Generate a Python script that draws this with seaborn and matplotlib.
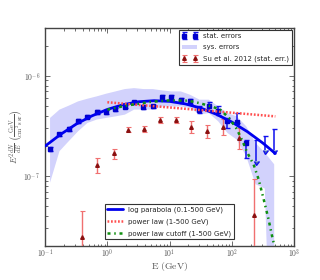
import numpy as np
import pandas as pd
import matplotlib
matplotlib.use("Agg")
import matplotlib.pyplot as plt
import seaborn as sns
from matplotlib.ticker import FuncFormatter, LogLocator

#%% Daten (E in GeV, E^2 dN/dE in GeV/cm^2/s/sr)
energie = [0.120, 0.170, 0.240, 0.339, 0.479, 0.676, 0.955, 1.35, 1.91, 2.69, 3.80,
           5.37, 7.59, 10.7, 15.1, 21.4, 30.2, 42.7, 60.3, 85.1, 120, 170]
fluss = [1.87e-7, 2.60e-7, 2.95e-7, 3.55e-7, 3.90e-7, 4.35e-7, 4.35e-7, 4.63e-7, 4.92e-7,
         5.43e-7, 4.88e-7, 4.95e-7, 6.09e-7, 6.09e-7, 5.69e-7, 5.56e-7, 4.55e-7, 5.00e-7,
         4.50e-7, 3.51e-7, 3.49e-7, 2.14e-7]
fluss_lo = [1.79e-7, 2.50e-7, 2.84e-7, 3.42e-7, 3.76e-7, 4.19e-7, 4.19e-7, 4.45e-7, 4.73e-7,
            5.22e-7, 4.69e-7, 4.75e-7, 5.80e-7, 5.80e-7, 5.37e-7, 5.24e-7, 4.25e-7, 4.60e-7,
            4.10e-7, 3.04e-7, 3.38e-7, 1.53e-7]
fluss_hi = [1.95e-7, 2.70e-7, 3.06e-7, 3.69e-7, 4.05e-7, 4.52e-7, 4.52e-7, 4.82e-7, 5.12e-7,
            5.65e-7, 5.08e-7, 5.15e-7, 6.40e-7, 6.40e-7, 6.02e-7, 5.89e-7, 4.95e-7, 5.45e-7,
            5.04e-7, 3.83e-7, 4.25e-7, 2.31e-7]

# obere Grenzen (Pfeile)
energie_ul = [240, 339, 479]
ul_oben = [2.31e-7, 2.49e-7, 2.95e-7]
ul_unten = [1.41e-7, 1.84e-7, 1.84e-7]

# systematische Fehler als Band
band_e = energie + energie_ul
band_lo = [8.6e-8, 1.77e-7, 2.23e-7, 2.80e-7, 3.39e-7, 3.66e-7, 3.80e-7, 3.94e-7, 4.10e-7,
           4.60e-7, 4.60e-7, 4.60e-7, 4.95e-7, 4.95e-7, 4.95e-7, 4.78e-7, 4.10e-7, 4.25e-7,
           3.52e-7, 2.69e-7, 2.31e-7, 1.58e-7, 8.3e-8, 7.5e-8, 1e-10]
band_hi = [3.8e-7, 4.6e-7, 5.04e-7, 5.56e-7, 5.91e-7, 6.24e-7, 6.63e-7, 6.99e-7, 7.38e-7,
           7.54e-7, 7.38e-7, 7.38e-7, 7.15e-7, 6.99e-7, 6.99e-7, 6.47e-7, 5.78e-7, 5.78e-7,
           4.95e-7, 4.25e-7, 3.94e-7, 3.14e-7, 2.14e-7, 1.71e-7, 1.31e-7]

# Su et al. 2012
su_e = [0.39, 0.68, 1.28, 2.18, 3.95, 7.0, 12.6, 22.4, 40, 71, 128, 228]
su_f = [2.44e-8, 1.30e-7, 1.68e-7, 2.91e-7, 2.97e-7, 3.63e-7, 3.63e-7, 3.09e-7, 2.80e-7,
        3.09e-7, 2.42e-7, 4.07e-8]
su_lo = [1e-9, 1.08e-7, 1.47e-7, 2.74e-7, 2.78e-7, 3.39e-7, 3.39e-7, 2.69e-7, 2.40e-7,
         2.59e-7, 1.87e-7, 1e-9]
su_hi = [4.5e-8, 1.51e-7, 1.88e-7, 3.09e-7, 3.19e-7, 3.85e-7, 3.85e-7, 3.51e-7, 3.26e-7,
         3.74e-7, 3.02e-7, 9.4e-8]

# Fits
parabel_e = [0.1, 0.178, 0.316, 0.562, 1, 1.78, 3.16, 5.62, 10, 17.8, 31.6, 56.2, 100, 178, 316, 500]
parabel_f = [1.99e-7, 2.61e-7, 3.30e-7, 3.98e-7, 4.62e-7, 5.15e-7, 5.51e-7, 5.65e-7, 5.56e-7,
             5.25e-7, 4.77e-7, 4.14e-7, 3.46e-7, 2.77e-7, 2.13e-7, 1.68e-7]
pl_e = [1, 500]
pl_f = [5.45e-7, 3.94e-7]
cut_e = [1, 2, 5, 10, 20, 30, 50, 65, 90, 120, 150, 174, 224, 269, 324, 389, 457, 500]
cut_f = [4.6e-7, 5.04e-7, 5.5e-7, 5.69e-7, 5.65e-7, 5.35e-7, 4.89e-7, 4.6e-7, 3.8e-7, 2.95e-7,
         2.2e-7, 1.75e-7, 1.3e-7, 9.3e-8, 5.9e-8, 3.7e-8, 2.3e-8, 1.9e-8]

#%% Grafik
sns.set_theme(style="ticks")
plt.rcParams["mathtext.fontset"] = "cm"
plt.rcParams["font.family"] = ["DejaVu Sans"]
grau = "#555555"

fig = plt.figure(figsize=(3.2, 2.8), dpi=100)
ax = fig.add_axes([0.141, 0.121, 0.778, 0.779])
ax.set_xscale("log")
ax.set_yscale("log")

band = ax.fill_between(band_e, band_lo, band_hi, color="#d2d2fc", lw=0)

fluss = np.array(fluss)
eb_stat = ax.errorbar(energie, fluss, yerr=[fluss - np.array(fluss_lo), np.array(fluss_hi) - fluss],
                      fmt="s", color="#0000cc", ms=3.3, ecolor="#1010ee", elinewidth=1.1,
                      capsize=1.8, capthick=1.0, zorder=4)
ul_oben = np.array(ul_oben)
ax.errorbar(energie_ul, ul_oben, yerr=[ul_oben - np.array(ul_unten), np.zeros(3)], uplims=True,
            fmt="none", ecolor="#1010ee", elinewidth=1.1, capsize=1.8, capthick=1.0, zorder=4)

su_f = np.array(su_f)
eb_su = ax.errorbar(su_e, su_f, yerr=[su_f - np.array(su_lo), np.array(su_hi) - su_f],
                    fmt="^", color="#8b1010", ms=2.6, ecolor="#f07070", elinewidth=1.0,
                    capsize=1.8, capthick=0.8, zorder=4)

df_par = pd.DataFrame({"E": parabel_e, "F": parabel_f})
df_pl = pd.DataFrame({"E": pl_e, "F": pl_f})
df_cut = pd.DataFrame({"E": cut_e, "F": cut_f})
sns.lineplot(data=df_par, x="E", y="F", ax=ax, color="#0000ee", lw=2.0, zorder=5)
l_par = ax.lines[-1]
sns.lineplot(data=df_pl, x="E", y="F", ax=ax, color="#ff5050", lw=1.8, zorder=5)
l_pl = ax.lines[-1]
l_pl.set_linestyle((0, (0.7, 0.7)))
sns.lineplot(data=df_cut, x="E", y="F", ax=ax, color="#109010", lw=1.8, zorder=5)
l_cut = ax.lines[-1]
l_cut.set_linestyle((0, (1.2, 1.5, 0.6, 1.5)))

ax.set_xlim(0.1, 1000)
ax.set_ylim(2e-8, 3e-6)

fmt = FuncFormatter(lambda v, p: r"$\mathrm{10^{%d}}$" % round(np.log10(v)))
ax.xaxis.set_major_formatter(fmt)
ax.yaxis.set_major_formatter(fmt)
ax.xaxis.set_minor_locator(LogLocator(subs=np.arange(2, 10)))
ax.yaxis.set_minor_locator(LogLocator(subs=np.arange(2, 10)))
ax.tick_params(which="both", direction="in", top=True, right=True, colors=grau,
               labelsize=5.5, width=0.6)
ax.tick_params(which="major", length=3.5)
ax.tick_params(which="minor", length=1.8)
ax.tick_params(axis="x", which="both", pad=0.5)
for s in ax.spines.values():
    s.set_color("#444444")
    s.set_linewidth(1.0)

ax.set_xlabel(r"$\mathrm{E\ (GeV)}$", fontsize=7, color=grau)
ax.set_ylabel(r"$E^2\frac{dN}{dE}\ \left(\frac{\mathrm{GeV}}{\mathrm{cm^2\,s\,sr}}\right)$",
              fontsize=6.5, color=grau)
ax.xaxis.set_label_coords(0.5, -0.065)
ax.yaxis.set_label_coords(-0.075, 0.5)

leg1 = ax.legend([eb_stat, band, eb_su],
                 ["stat. errors", "sys. errors", "Su et al. 2012 (stat. err.)"],
                 loc="upper right", numpoints=2, fontsize=5, fancybox=False,
                 edgecolor="#333333", framealpha=1, borderaxespad=0.35,
                 handlelength=2.2, labelspacing=0.75)
leg1.get_frame().set_linewidth(0.8)
ax.add_artist(leg1)
leg2 = ax.legend([l_par, l_pl, l_cut],
                 ["log parabola (0.1-500 GeV)", "power law (1-500 GeV)",
                  "power law cutoff (1-500 GeV)"],
                 loc="lower left", bbox_to_anchor=(0.225, 0.015), fontsize=5,
                 fancybox=False, edgecolor="#333333", framealpha=1,
                 handlelength=2.2, labelspacing=0.75)
leg2.get_frame().set_linewidth(0.8)

fig.savefig("out.png", dpi=100)
